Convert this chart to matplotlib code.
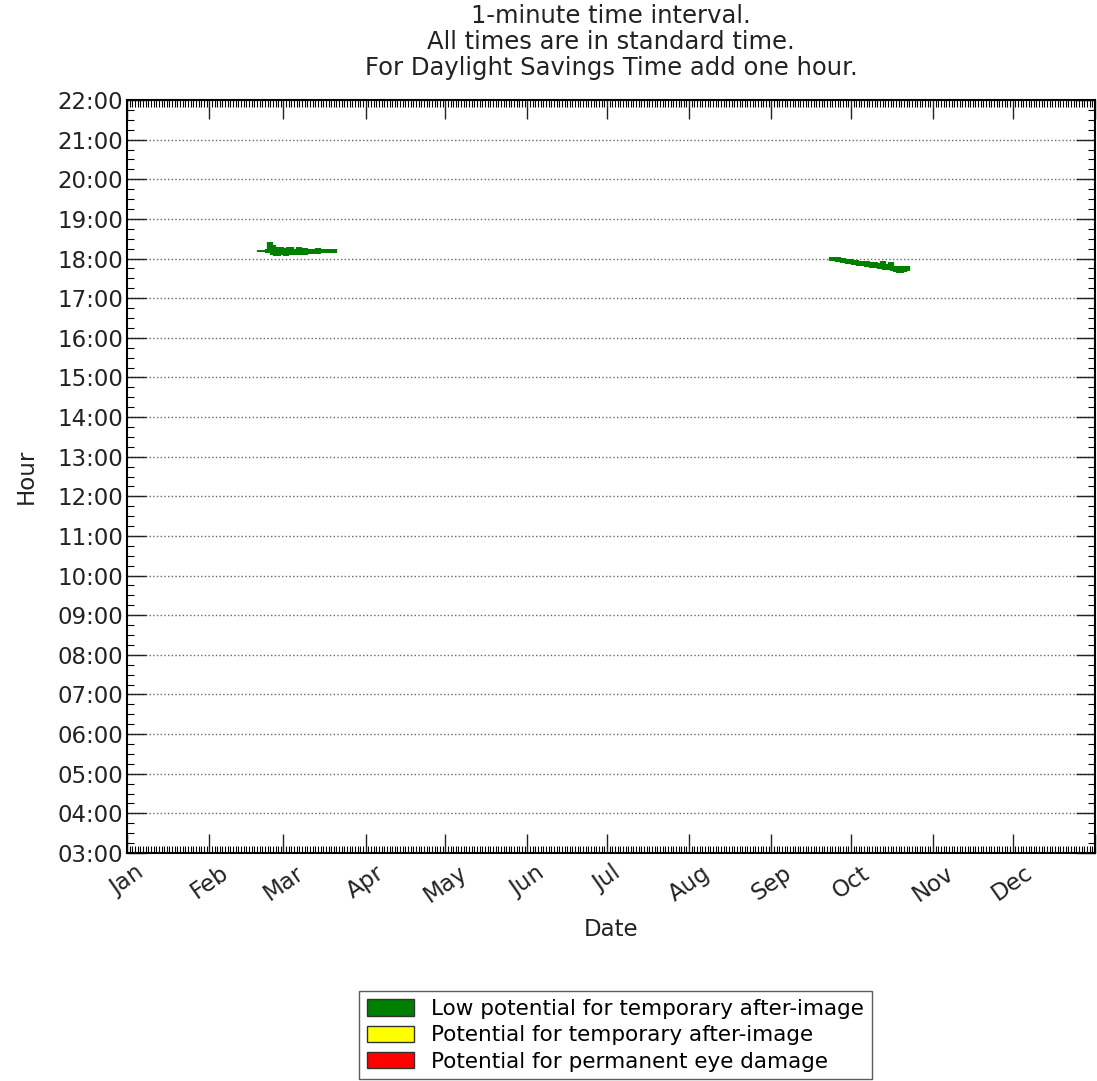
import matplotlib
matplotlib.use("Agg")
import matplotlib.pyplot as plt
import matplotlib.dates as mdates
from matplotlib.patches import Patch
from matplotlib.ticker import MultipleLocator, FuncFormatter
import datetime as dt

# ---- data ----
year = 2014
month_labels = ["Jan", "Feb", "Mar", "Apr", "May", "Jun", "Jul", "Aug", "Sep", "Oct", "Nov", "Dec"]
hour_labels = ["%02d:00" % h for h in range(3, 23)]

# March glare episode: day of year, start and end hour (fractional)
mar_days  = [51, 52, 54, 55, 56, 57, 58, 59, 60, 61, 62, 63, 64, 65, 66, 67, 68, 69, 70, 71, 72, 73, 74, 75, 76, 77, 78, 79]
mar_start = [18.16, 18.16, 18.15, 18.17, 18.08, 18.07, 18.06, 18.10, 18.12, 18.07, 18.11, 18.08, 18.10, 18.12, 18.09, 18.12, 18.10, 18.11, 18.13, 18.12, 18.13, 18.12, 18.13, 18.14, 18.14, 18.15, 18.15, 18.15]
mar_end   = [18.22, 18.22, 18.24, 18.42, 18.34, 18.30, 18.22, 18.30, 18.27, 18.24, 18.29, 18.28, 18.22, 18.24, 18.28, 18.21, 18.27, 18.24, 18.25, 18.25, 18.22, 18.26, 18.24, 18.25, 18.24, 18.25, 18.24, 18.24]

# October glare episode
oct_days  = [267, 268, 269, 270, 271, 272, 273, 274, 275, 276, 277, 278, 279, 280, 281, 282, 283, 284, 285, 286, 287, 288, 289, 290, 291, 292, 293, 294, 295]
oct_start = [17.94, 17.93, 17.92, 17.90, 17.89, 17.88, 17.87, 17.85, 17.84, 17.83, 17.82, 17.81, 17.80, 17.79, 17.78, 17.77, 17.76, 17.75, 17.74, 17.73, 17.72, 17.71, 17.70, 17.69, 17.66, 17.64, 17.63, 17.65, 17.68]
oct_end   = [18.05, 18.04, 18.03, 18.02, 18.01, 18.00, 17.99, 17.98, 17.97, 17.96, 17.95, 17.94, 17.93, 17.95, 17.91, 17.90, 17.92, 17.88, 17.87, 17.93, 17.85, 17.84, 17.90, 17.82, 17.81, 17.80, 17.79, 17.80, 17.82]

legend_labels = ["Low potential for temporary after-image",
                 "Potential for temporary after-image",
                 "Potential for permanent eye damage"]
legend_colors = ["#007f00", "#ffff00", "#ff0000"]

title = "1-minute time interval.\nAll times are in standard time.\nFor Daylight Savings Time add one hour."

# ---- plot ----
plt.rcParams['font.family'] = ['DejaVu Sans']
fig = plt.figure(figsize=(10.97, 10.81), dpi=100)
ax = fig.add_axes([0.1158, 0.2109, 0.8822, 0.6966])

def to_date(doy):
    return dt.datetime(year, 1, 1) + dt.timedelta(days=doy - 1)

for days, s, e in [(mar_days, mar_start, mar_end), (oct_days, oct_start, oct_end)]:
    xs = [mdates.date2num(to_date(d)) for d in days]
    ax.vlines(xs, s, e, colors="#007f00", linewidth=4.5)

ax.set_xlim(mdates.date2num(dt.datetime(year, 1, 1)), mdates.date2num(dt.datetime(year + 1, 1, 1)))
ax.set_ylim(3, 22)

def xfmt(v, p):
    d = mdates.num2date(v)
    if d.year != year:
        return ""
    return month_labels[d.month - 1]

ax.xaxis.set_major_locator(mdates.MonthLocator())
ax.xaxis.set_major_formatter(FuncFormatter(xfmt))
ax.xaxis.set_minor_locator(mdates.DayLocator())
ax.yaxis.set_major_locator(MultipleLocator(1))
ax.yaxis.set_major_formatter(FuncFormatter(lambda v, p: hour_labels[int(round(v)) - 3] if 3 <= round(v) <= 22 else ""))
ax.yaxis.set_minor_locator(MultipleLocator(0.25))

ax.tick_params(which="major", direction="in", length=14, width=1, top=True, right=True, labelsize=16.5, colors="#222222")
ax.tick_params(which="minor", direction="in", length=5, width=0.8, top=True, right=True)
for lbl in ax.get_xticklabels():
    lbl.set_rotation(35)
    lbl.set_ha("center")
    lbl.set_va("top")
ax.tick_params(axis="x", pad=6)
ax.tick_params(axis="y", pad=3)

ax.grid(axis="y", which="major", linestyle=":", color="#666666", linewidth=1)
for sp in ax.spines.values():
    sp.set_linewidth(1.5)

ax.set_xlabel("Date", fontsize=16.5, labelpad=8, color="#222222")
ax.set_ylabel("Hour", fontsize=16.5, labelpad=14, color="#222222")
ax.set_title(title, fontsize=17.5, linespacing=1.1, pad=18, color="#222222")

handles = [Patch(facecolor=c, edgecolor="#333333", linewidth=1) for c in legend_colors]
fig.legend(handles, legend_labels, loc="upper center", bbox_to_anchor=(0.561, 0.093),
           fontsize=15.5, frameon=True, fancybox=False, edgecolor="#333333",
           handlelength=2.2, handleheight=0.8, labelspacing=0.3, borderpad=0.35, handletextpad=0.8)

fig.savefig("out.png", dpi=100)
